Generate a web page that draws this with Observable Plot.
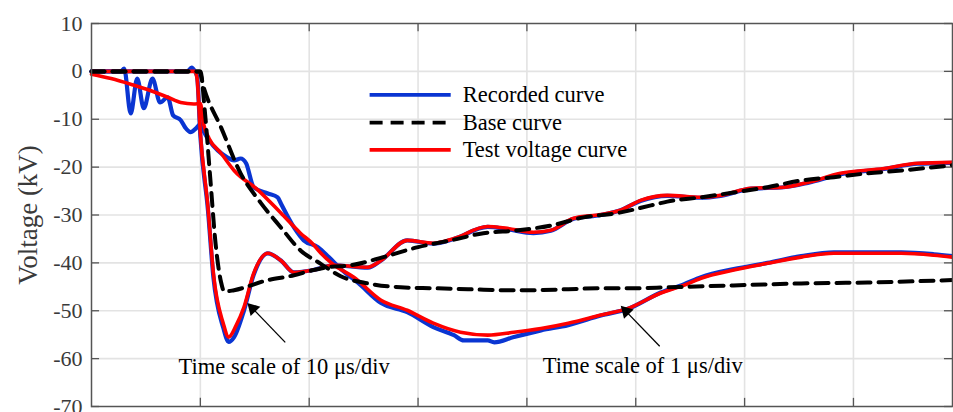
<!DOCTYPE html>
<html>
<head>
<meta charset="utf-8">
<script src="https://cdn.jsdelivr.net/npm/d3@7"></script>
<script src="https://cdn.jsdelivr.net/npm/@observablehq/plot@0.6"></script>
<style>
  html, body { margin: 0; padding: 0; background: white; }
  #chart { width: 953px; height: 412px; overflow: hidden; }
  #chart svg text { font-family: 'Liberation Serif', 'Times New Roman', serif; }
</style>
</head>
<body>
<div id="chart"></div>
<script>
// ---- Data (x in time divisions, y in kV) ----
const yTicks = [-70, -60, -50, -40, -30, -20, -10, 0, 10];
const yGrid = [-60, -50, -40, -30, -20, -10, 0];
const xGrid = [1, 2, 3, 4, 5, 6, 7];

// Time scale of 10 µs/div
const fastX_rec = [0, 0.88, 0.92, 0.95, 0.97, 1.0, 1.07, 1.12, 1.21, 1.26, 1.31, 1.40, 1.49, 1.62, 1.74, 1.86, 2.04, 2.22, 2.54, 2.66, 2.90, 3.14, 3.33, 3.64, 3.82, 4.06, 4.22, 4.43, 4.68, 4.86, 5.05, 5.29, 5.60, 5.78, 6.06, 6.36, 6.58, 6.88, 7.28, 7.59, 7.91];
const fastY_rec = [0, 0, 0.8, 0, -1, -13.5, -29, -43, -53.5, -56.5, -55.5, -50, -42.5, -38, -39.5, -42, -41.5, -40.5, -41, -39.5, -35.3, -36, -35, -32.5, -33, -33.8, -33.3, -30.8, -30, -29, -27, -26, -26.4, -26, -24.5, -24.2, -23.3, -21.5, -20.4, -19.3, -19.1];

const fastX_test = [0, 0.95, 0.97, 1.0, 1.07, 1.12, 1.21, 1.26, 1.33, 1.40, 1.49, 1.62, 1.74, 1.86, 2.04, 2.22, 2.54, 2.66, 2.90, 3.14, 3.33, 3.64, 3.82, 4.06, 4.22, 4.43, 4.68, 4.86, 5.05, 5.29, 5.60, 5.78, 6.06, 6.36, 6.58, 6.88, 7.28, 7.59, 7.91];
const fastY_test = [0, 0, -1.5, -12.9, -28.4, -42.2, -52.6, -55.5, -53, -49.3, -42.2, -38, -39.5, -42, -41.5, -40.5, -40.9, -39.5, -35.3, -35.9, -34.9, -32.4, -32.8, -33.6, -33.2, -30.7, -29.9, -29, -26.9, -25.9, -26.3, -25.9, -24.4, -24.2, -23.2, -21.3, -20.3, -19.2, -19.0];

const fastX_base = [0, 1.0, 1.04, 1.09, 1.14, 1.19, 1.22, 1.31, 1.62, 1.86, 2.04, 2.18, 2.38, 2.68, 3.00, 3.30, 3.60, 3.92, 4.22, 4.52, 4.83, 5.14, 5.29, 5.60, 5.90, 6.21, 6.52, 6.82, 7.13, 7.44, 7.91];
const fastY_base = [0, 0, -8, -22, -36, -44, -46, -45.7, -43.6, -42.6, -41.5, -40.9, -40.5, -38.8, -36.7, -35.3, -33.8, -33.2, -32.2, -30.5, -29.6, -28.0, -27.2, -26.3, -25.3, -24.2, -22.8, -22.1, -21.3, -20.7, -19.6];

// Time scale of 1 µs/div
const slowX_rec = [0, 0.27, 0.30, 0.36, 0.42, 0.48, 0.56, 0.63, 0.70, 0.75, 0.82, 0.86, 0.91, 0.96, 1.0, 1.03, 1.08, 1.16, 1.25, 1.31, 1.37, 1.42, 1.49, 1.62, 1.71, 1.74, 1.86, 1.95, 2.08, 2.18, 2.30, 2.45, 2.66, 2.90, 3.14, 3.33, 3.42, 3.64, 3.70, 3.88, 4.13, 4.38, 4.68, 4.93, 5.23, 5.44, 5.60, 5.90, 6.21, 6.52, 6.82, 7.13, 7.44, 7.74, 7.91];
const slowY_rec = [0, 0, 0.6, -8.8, -1.5, -7.7, -1.5, -6.5, -5.4, -9.2, -10.2, -11.7, -12.7, -11.9, -11.0, -12.5, -14.4, -16.5, -18.0, -18.6, -18.2, -19.2, -24.2, -25.5, -26.3, -27.6, -32.6, -35.3, -36.7, -38.8, -41.5, -44.2, -48.4, -50.3, -53.4, -55.1, -56.2, -56.2, -56.6, -55.5, -54.1, -53.0, -51.0, -49.6, -46.2, -44.5, -43.0, -41.3, -40.0, -38.6, -37.8, -37.8, -37.8, -38.2, -38.6];

const slowX_test = [0, 0.18, 0.39, 0.54, 0.70, 0.82, 0.94, 1.0, 1.03, 1.08, 1.19, 1.31, 1.53, 1.74, 1.92, 2.04, 2.10, 2.22, 2.41, 2.66, 2.90, 3.14, 3.39, 3.64, 3.88, 4.13, 4.38, 4.68, 4.93, 5.23, 5.44, 5.60, 5.90, 6.21, 6.52, 6.82, 7.13, 7.44, 7.74, 7.91];
const slowY_test = [-0.6, -1.5, -2.9, -4.0, -5.4, -6.5, -6.8, -6.7, -11.0, -14.0, -17.1, -20.7, -24.8, -29.6, -33.8, -36.2, -37.8, -40.3, -43.0, -47.8, -49.9, -52.6, -54.5, -55.1, -54.5, -53.7, -52.6, -50.9, -49.5, -46.3, -44.7, -43.2, -41.5, -40.1, -38.8, -38.0, -38.0, -38.0, -38.4, -38.8];

const slowX_base = [0, 0.99, 1.03, 1.19, 1.37, 1.55, 1.74, 1.92, 2.10, 2.29, 2.54, 2.84, 3.14, 3.46, 3.76, 4.06, 4.38, 4.68, 4.98, 5.29, 5.90, 6.52, 7.13, 7.91];
const slowY_base = [0, 0, -3.3, -11.7, -21.3, -27.3, -32.6, -37.4, -40.1, -42.8, -44.3, -45.1, -45.3, -45.5, -45.7, -45.7, -45.5, -45.3, -45.3, -45.1, -44.7, -44.3, -44.1, -43.6];

const legendLabels = ["Recorded curve", "Base curve", "Test voltage curve"];
const legendY = [-4.9, -10.7, -16.4];
const annotations = [
  {text: "Time scale of 10 \u03bcs/div", x: 0.80, y: -61.8, ax1: 1.78, ay1: -56.6, ax2: 1.445, ay2: -48.7},
  {text: "Time scale of 1 \u03bcs/div", x: 4.145, y: -61.6, ax1: 5.22, ay1: -57.4, ax2: 4.875, ay2: -49.3}
];

// ---- Build tables ----
const zip = (xs, ys) => xs.map((x, i) => ({x, y: ys[i]}));
const recFast = zip(fastX_rec, fastY_rec), testFast = zip(fastX_test, fastY_test), baseFast = zip(fastX_base, fastY_base);
const recSlow = zip(slowX_rec, slowY_rec), testSlow = zip(slowX_test, slowY_test), baseSlow = zip(slowX_base, slowY_base);

const BLUE = "#0a35d2", RED = "#ff0000", BLACK = "#000000";
const FONT = "Liberation Serif";
const XMAX = 7.91;
const legX1 = 2.555, legX2 = 3.30, legTX = 3.41;

const lineOpts = (color, w, dash) => ({x: "x", y: "y", stroke: color, strokeWidth: w, curve: "monotone-x", strokeDasharray: dash, strokeLinejoin: "round"});

const chart = Plot.plot({
  width: 953,
  height: 412,
  marginLeft: 91,
  marginRight: 1,
  marginTop: 23,
  marginBottom: 6,
  x: {domain: [0, XMAX], axis: null},
  y: {domain: [-70, 10]},
  style: {fontFamily: FONT, background: "white", overflow: "hidden"},
  marks: [
    Plot.ruleX(xGrid, {stroke: "#e3e3e3", strokeWidth: 1.6}),
    Plot.ruleY(yGrid, {stroke: "#e3e3e3", strokeWidth: 1.6}),
    // inward tick marks
    Plot.ruleY(yTicks, {x1: 0, x2: 0.074, stroke: "#555", strokeWidth: 1.3}),
    Plot.ruleY(yTicks, {x1: XMAX - 0.074, x2: XMAX, stroke: "#555", strokeWidth: 1.3}),
    Plot.ruleX(xGrid, {y1: 10, y2: 8.3, stroke: "#555", strokeWidth: 1.3}),
    Plot.ruleX(xGrid, {y1: -70, y2: -68.3, stroke: "#555", strokeWidth: 1.3}),
    Plot.axisY({ticks: yTicks, tickSize: 0, tickPadding: 9, tickFormat: d => `${d}`, fontSize: 22, fontFamily: FONT, color: "#3a3a3a", label: null}),
    Plot.text(["Voltage (kV)"], {frameAnchor: "left", dx: -63, rotate: -90, textAnchor: "middle", fontSize: 27, fontFamily: FONT, fill: "#3a3a3a"}),
    // curves
    Plot.line(recFast, lineOpts(BLUE, 4.2)),
    Plot.line(recSlow, lineOpts(BLUE, 4.2)),
    Plot.line(testFast, lineOpts(RED, 3.6)),
    Plot.line(testSlow, lineOpts(RED, 3.6)),
    Plot.line(baseFast, lineOpts(BLACK, 4, "13,8")),
    Plot.line(baseSlow, lineOpts(BLACK, 4, "13,8")),
    Plot.frame({stroke: "#555", strokeWidth: 1.5}),
    // legend
    Plot.link([legendY[0]], {x1: legX1, x2: legX2, y1: d => d, y2: d => d, stroke: BLUE, strokeWidth: 3.6}),
    Plot.link([legendY[1]], {x1: legX1, x2: legX2, y1: d => d, y2: d => d, stroke: BLACK, strokeWidth: 3.6, strokeDasharray: "13,8"}),
    Plot.link([legendY[2]], {x1: legX1, x2: legX2, y1: d => d, y2: d => d, stroke: RED, strokeWidth: 3.6}),
    Plot.text(legendLabels, {x: legTX, y: (d, i) => legendY[i], text: d => d, textAnchor: "start", fontSize: 22.5, fontFamily: FONT, fill: "black"}),
    // annotations: shafts + filled heads
    Plot.link(annotations, {x1: "ax1", y1: "ay1", x2: "ax2", y2: "ay2", stroke: "black", strokeWidth: 1.3}),
    Plot.dot(annotations, {x: "ax2", y: "ay2", symbol: "triangle", r: 5, rotate: -44, dx: 4, dy: 4, fill: "black", stroke: "none"}),
    Plot.text(annotations, {x: "x", y: "y", text: "text", textAnchor: "start", fontSize: 22.5, fontFamily: FONT, fill: "black"})
  ]
});
document.getElementById("chart").appendChild(chart);
</script>
</body>
</html>
